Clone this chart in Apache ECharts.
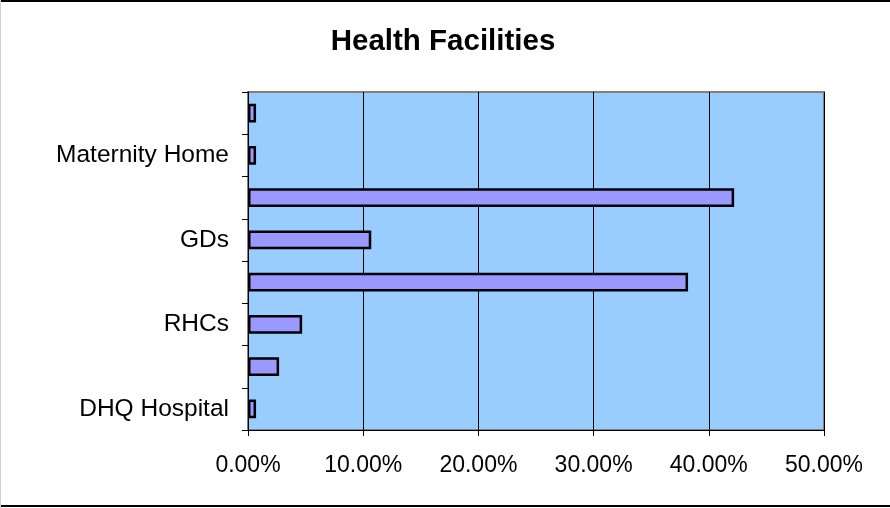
<!DOCTYPE html>
<html>
<head>
<meta charset="utf-8">
<script src="https://cdn.jsdelivr.net/npm/echarts@6/dist/echarts.min.js"></script>
<style>
html,body{margin:0;padding:0;background:#fff;}
#wrap{position:relative;width:890px;height:508px;overflow:hidden;}
#chart{position:absolute;left:0;top:0;width:890px;height:508px;}
.b{position:absolute;pointer-events:none;}
</style>
</head>
<body>
<div id="wrap">
<div id="chart"></div>
<div class="b" style="left:0;top:0;width:890px;height:2px;background:#000;"></div>
<div class="b" style="left:0;top:505px;width:890px;height:2px;background:#000;"></div>
<div class="b" style="left:0;top:0;width:1px;height:508px;background:#d0d0d0;"></div>
</div>
<script>
const titleText = 'Health Facilities';
const categories = ['DHQ Hospital', 'THQ Hospitals', 'RHCs', 'BHUs', 'GDs', 'MCH Centers', 'Maternity Home', 'TB Clinics'];
const values = [0.7, 2.7, 4.7, 38.2, 10.7, 42.2, 0.7, 0.7];
const xTicks = [0, 10, 20, 30, 40, 50];

const chart = echarts.init(document.getElementById('chart'));
chart.setOption({
  animation: false,
  backgroundColor: '#fff',
  title: {
    text: titleText,
    left: 438, textAlign: 'center',
    top: 22,
    textStyle: { fontFamily: 'Liberation Sans, Arial, sans-serif', fontSize: 29.5, fontWeight: 'bold', color: '#000' }
  },
  grid: {
    left: 248, right: 66, top: 92, bottom: 78,
    show: true, backgroundColor: '#99CCFF', borderColor: '#808080', borderWidth: 2
  },
  xAxis: {
    type: 'value',
    min: xTicks[0], max: xTicks[xTicks.length - 1], interval: 10,
    axisLine: { show: true, lineStyle: { color: '#000', width: 1 } },
    axisTick: { show: true, length: 6, lineStyle: { color: '#000' } },
    splitLine: { show: true, lineStyle: { color: '#000', width: 1 } },
    axisLabel: {
      margin: 24,
      fontFamily: 'Liberation Sans, Arial, sans-serif', fontSize: 23, color: '#000',
      formatter: v => v.toFixed(2) + '%'
    }
  },
  yAxis: {
    type: 'category',
    data: categories,
    axisLine: { show: true, lineStyle: { color: '#000', width: 1 } },
    axisTick: { show: true, length: 6, interval: 0, lineStyle: { color: '#000' } },
    axisLabel: {
      interval: 1, margin: 19,
      fontFamily: 'Liberation Sans, Arial, sans-serif', fontSize: 24.5, color: '#000'
    }
  },
  series: [{
    type: 'bar',
    data: values,
    barCategoryGap: '56%',
    itemStyle: { color: '#9999FF', borderColor: '#000', borderWidth: 2.5 }
  }]
});
</script>
</body>
</html>
